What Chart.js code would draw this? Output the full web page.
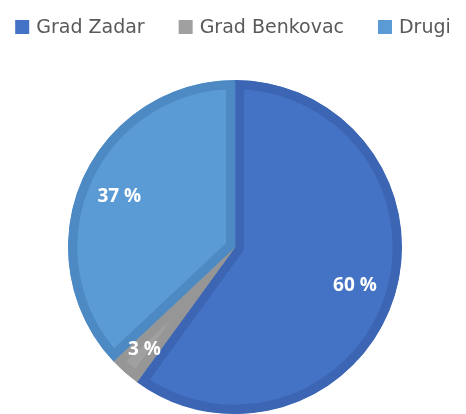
<!DOCTYPE html>
<html>
<head>
<meta charset="utf-8">
<script src="https://cdn.jsdelivr.net/npm/chart.js@4/dist/chart.umd.min.js"></script>
<style>
  html, body { margin: 0; padding: 0; background: #fff; }
  #wrap { position: relative; width: 466px; height: 414px; }
</style>
</head>
<body>
<div id="wrap"><canvas id="pie" width="466" height="414"></canvas></div>
<script>
const labels = ['Grad Zadar', 'Grad Benkovac', 'Drugi'];
const shares = [60, 3, 37];
const fillColors = ['#4472C4', '#A0A0A0', '#5B9BD5'];
const edgeColors = ['#3C66B4', '#969696', '#4D8AC3'];

// legend drawn on the canvas, items centered with a fixed gap
const topLegend = {
  id: 'topLegend',
  afterDraw(chart) {
    const ctx = chart.ctx;
    const box = 14, gapText = 7, gapItem = 34, midY = 27;
    ctx.save();
    ctx.font = '19px "DejaVu Sans"';
    ctx.textBaseline = 'middle';
    ctx.textAlign = 'left';
    const widths = labels.map(t => box + gapText + ctx.measureText(t).width);
    const total = widths.reduce((a, b) => a + b, 0) + gapItem * (labels.length - 1);
    let x = (chart.width - total) / 2;
    labels.forEach((t, i) => {
      ctx.fillStyle = fillColors[i];
      ctx.fillRect(x, midY - box / 2, box, box);
      ctx.fillStyle = '#595959';
      ctx.fillText(t, x + box + gapText, midY + 1);
      x += widths[i] + gapItem;
    });
    ctx.restore();
  }
};

// percentage labels inside the slices
const sliceLabels = {
  id: 'sliceLabels',
  afterDatasetsDraw(chart) {
    const ctx = chart.ctx;
    const meta = chart.getDatasetMeta(0);
    ctx.save();
    ctx.font = 'bold 19px "Open Sans"';
    ctx.fillStyle = '#ffffff';
    ctx.textAlign = 'center';
    ctx.textBaseline = 'middle';
    meta.data.forEach((arc, i) => {
      const p = arc.getProps(['x', 'y', 'startAngle', 'endAngle', 'outerRadius'], true);
      const mid = (p.startAngle + p.endAngle) / 2;
      const f = shares[i] < 10 ? 0.82 : 0.755;
      const r = p.outerRadius * f;
      ctx.fillText(shares[i] + ' %', p.x + Math.cos(mid) * r, p.y + Math.sin(mid) * r);
    });
    ctx.restore();
  }
};

new Chart(document.getElementById('pie'), {
  type: 'pie',
  data: {
    labels: labels,
    datasets: [{
      data: shares,
      backgroundColor: fillColors,
      borderColor: edgeColors,
      borderWidth: 9,
      borderAlign: 'inner'
    }]
  },
  options: {
    responsive: false,
    animation: false,
    layout: { padding: { top: 80, left: 4, right: 0, bottom: 0 } },
    plugins: {
      legend: { display: false },
      tooltip: { enabled: false }
    }
  },
  plugins: [topLegend, sliceLabels]
});
</script>
</body>
</html>
